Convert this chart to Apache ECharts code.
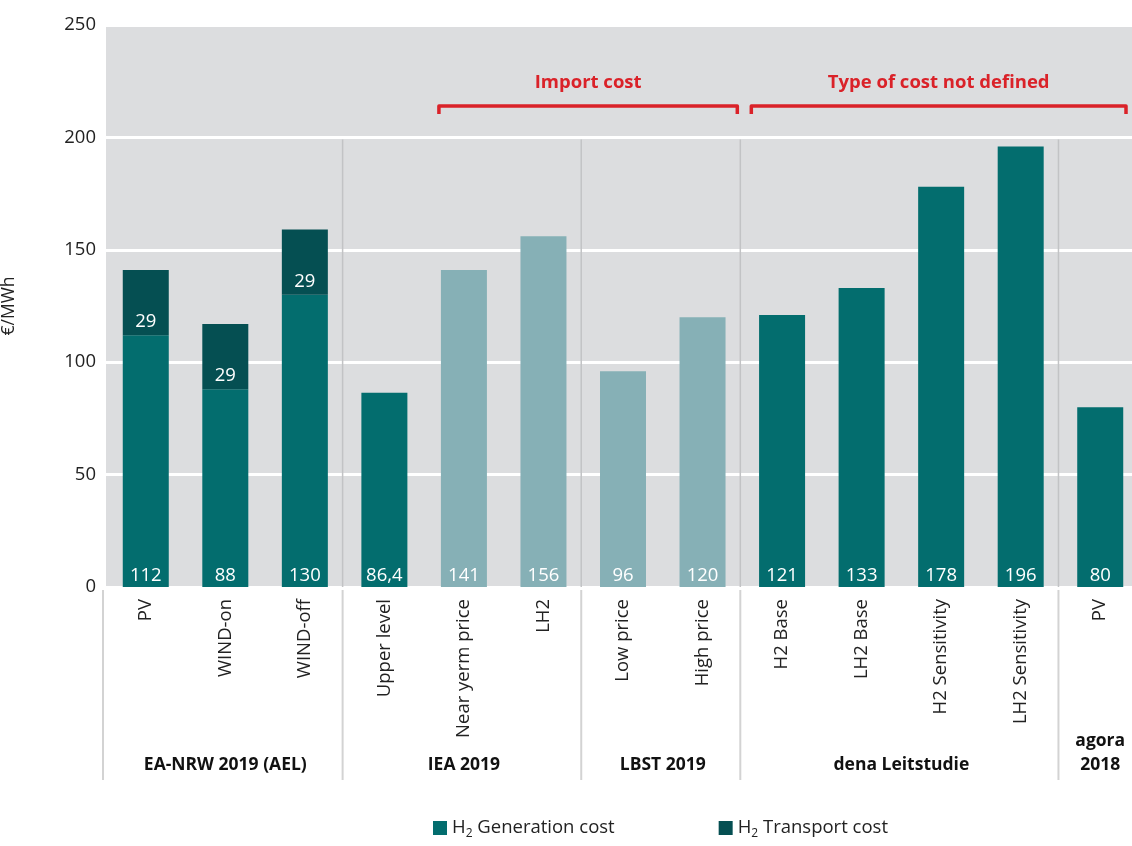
<!DOCTYPE html>
<html>
<head>
<meta charset="utf-8">
<script src="https://cdn.jsdelivr.net/npm/echarts@6/dist/echarts.min.js"></script>
<style>
html,body{margin:0;padding:0;background:#fff;}
#main{width:1132px;height:846px;}
</style>
</head>
<body>
<div id="main"></div>
<script>
// ---- data ----
const categories = ['PV','WIND-on','WIND-off','Upper level','Near yerm price','LH2','Low price','High price','H2 Base','LH2 Base','H2 Sensitivity','LH2 Sensitivity','PV'];
const generationCost = [112, 88, 130, 86.4, 141, 156, 96, 120, 121, 133, 178, 196, 80];
const transportCost = [29, 29, 29, null, null, null, null, null, null, null, null, null, null];
const importCostFlags = [0, 0, 0, 0, 1, 1, 1, 1, 0, 0, 0, 0, 0];
const groupNames = ['EA-NRW 2019 (AEL)', 'IEA 2019', 'LBST 2019', 'dena Leitstudie', 'agora\n2018'];
const groupStart = [0, 3, 6, 8, 12];
const groupEnd = [3, 6, 8, 12, 13];
const yTicks = { min: 0, max: 250, interval: 50 };
const bracketLabels = ['Import cost', 'Type of cost not defined'];

const FONT = '"Open Sans", "Noto Sans", sans-serif';
const C_GEN = '#036d6e';
const C_TRA = '#054f52';
const C_IMP = '#86b0b6';
const RED = '#da2229';

const chart = echarts.init(document.getElementById('main'), null, { renderer: 'canvas' });

const genData = generationCost.map((v, i) => ({
  value: v,
  itemStyle: { color: importCostFlags[i] ? C_IMP : C_GEN }
}));

const option = {
  animation: false,
  textStyle: { fontFamily: FONT },
  grid: {
    left: 106, top: 25, width: 1034, height: 562,
    outerBoundsMode: 'none', containLabel: false,
    show: true, backgroundColor: '#dcdddf', borderWidth: 0
  },
  legend: {
    bottom: 1, left: 428,
    itemWidth: 14, itemHeight: 14, itemGap: 104,
    icon: 'rect',
    textStyle: {
      fontFamily: FONT, fontSize: 18.5, color: '#222',
      rich: {
        a: { fontFamily: FONT, fontSize: 18.5, color: '#222' },
        s: { fontFamily: FONT, fontSize: 12, color: '#222', padding: [12, 0, 0, 0] }
      }
    },
    formatter: function (name) {
      return name === 'gen' ? '{a|H}{s|2}{a| Generation cost}' : '{a|H}{s|2}{a| Transport cost}';
    },
    data: [{ name: 'gen', itemStyle: { color: C_GEN } }, { name: 'tra', itemStyle: { color: C_TRA } }]
  },
  xAxis: {
    type: 'category',
    data: categories,
    axisLine: { show: false },
    axisTick: { show: false },
    axisLabel: {
      rotate: 90, interval: 0, margin: 12,
      fontFamily: FONT, fontSize: 18.5, color: '#222'
    }
  },
  yAxis: {
    type: 'value',
    min: yTicks.min, max: yTicks.max, interval: yTicks.interval,
    name: '€/MWh', nameLocation: 'middle', nameGap: 88, nameRotate: 90,
    nameTextStyle: { fontFamily: FONT, fontSize: 17.5, color: '#222', padding: [0, 0, 0, 0] },
    axisLine: { show: false },
    axisTick: { show: false },
    axisLabel: { fontFamily: FONT, fontSize: 18.5, color: '#222', margin: 10 },
    splitLine: { show: true, lineStyle: { color: '#ffffff', width: 3 } }
  },
  series: [
    {
      name: 'gen', type: 'bar', stack: 'total', barWidth: 46,
      data: genData,
      label: {
        show: true, position: 'insideBottom', distance: 2,
        color: '#fff', fontFamily: FONT, fontSize: 18.5,
        formatter: p => String(p.value).replace('.', ',')
      }
    },
    {
      name: 'tra', type: 'bar', stack: 'total', barWidth: 46,
      itemStyle: { color: C_TRA },
      data: transportCost,
      label: {
        show: true, position: 'insideBottom', distance: 4,
        color: '#fff', fontFamily: FONT, fontSize: 18.5,
        formatter: p => (p.value == null ? '' : String(p.value))
      }
    }
  ]
};

chart.setOption(option);

function buildGraphics() {
  const c0 = chart.convertToPixel({ xAxisIndex: 0 }, 0);
  const c1 = chart.convertToPixel({ xAxisIndex: 0 }, 1);
  const bw = c1 - c0;
  const edge = i => c0 - bw / 2 + i * bw;
  const y200 = chart.convertToPixel({ yAxisIndex: 0 }, 200);
  const y0 = chart.convertToPixel({ yAxisIndex: 0 }, 0);
  const yBottom = 780;
  const els = [];

  // left border line of the category area
  els.push({ type: 'line', shape: { x1: edge(0) - 3, y1: y0 + 3, x2: edge(0) - 3, y2: yBottom },
    style: { stroke: '#d3d3d3', lineWidth: 2 }, z: 10 });

  // group separators
  for (let g = 1; g < groupStart.length; g++) {
    const x = edge(groupStart[g]) - 2;
    els.push({ type: 'line', shape: { x1: x, y1: y200 + 2, x2: x, y2: y0 },
      style: { stroke: '#c2c3c5', lineWidth: 1.5 }, z: 1 });
    els.push({ type: 'line', shape: { x1: x, y1: y0 + 3, x2: x, y2: yBottom },
      style: { stroke: '#d3d3d3', lineWidth: 2 }, z: 10 });
  }

  // group labels
  for (let g = 0; g < groupNames.length; g++) {
    const cx = (edge(groupStart[g]) + edge(groupEnd[g])) / 2;
    els.push({ type: 'text', x: cx, y: 777,
      style: { text: groupNames[g], fontFamily: FONT, fontSize: 17.5, fontWeight: 'bold',
        fill: '#111', align: 'center', verticalAlign: 'bottom', lineHeight: 24 }, z: 10 });
  }

  // red brackets
  const yb = chart.convertToPixel({ yAxisIndex: 0 }, 214);
  const yt = chart.convertToPixel({ yAxisIndex: 0 }, 224.5);
  const brackets = [
    [c0 + 4 * bw - 25, edge(8) - 5],
    [edge(8) + 9, edge(13) - 14]
  ];
  brackets.forEach((b, k) => {
    els.push({ type: 'polyline',
      shape: { points: [[b[0], yb + 8], [b[0], yb], [b[1], yb], [b[1], yb + 8]] },
      style: { stroke: RED, lineWidth: 3.5, fill: null, lineJoin: 'round' }, z: 10 });
    els.push({ type: 'text', x: (b[0] + b[1]) / 2, y: yt,
      style: { text: bracketLabels[k], fontFamily: FONT, fontSize: 18.5, fontWeight: 'bold',
        fill: RED, align: 'center', verticalAlign: 'middle' }, z: 10 });
  });

  chart.setOption({ graphic: els });
}
buildGraphics();
</script>
</body>
</html>
